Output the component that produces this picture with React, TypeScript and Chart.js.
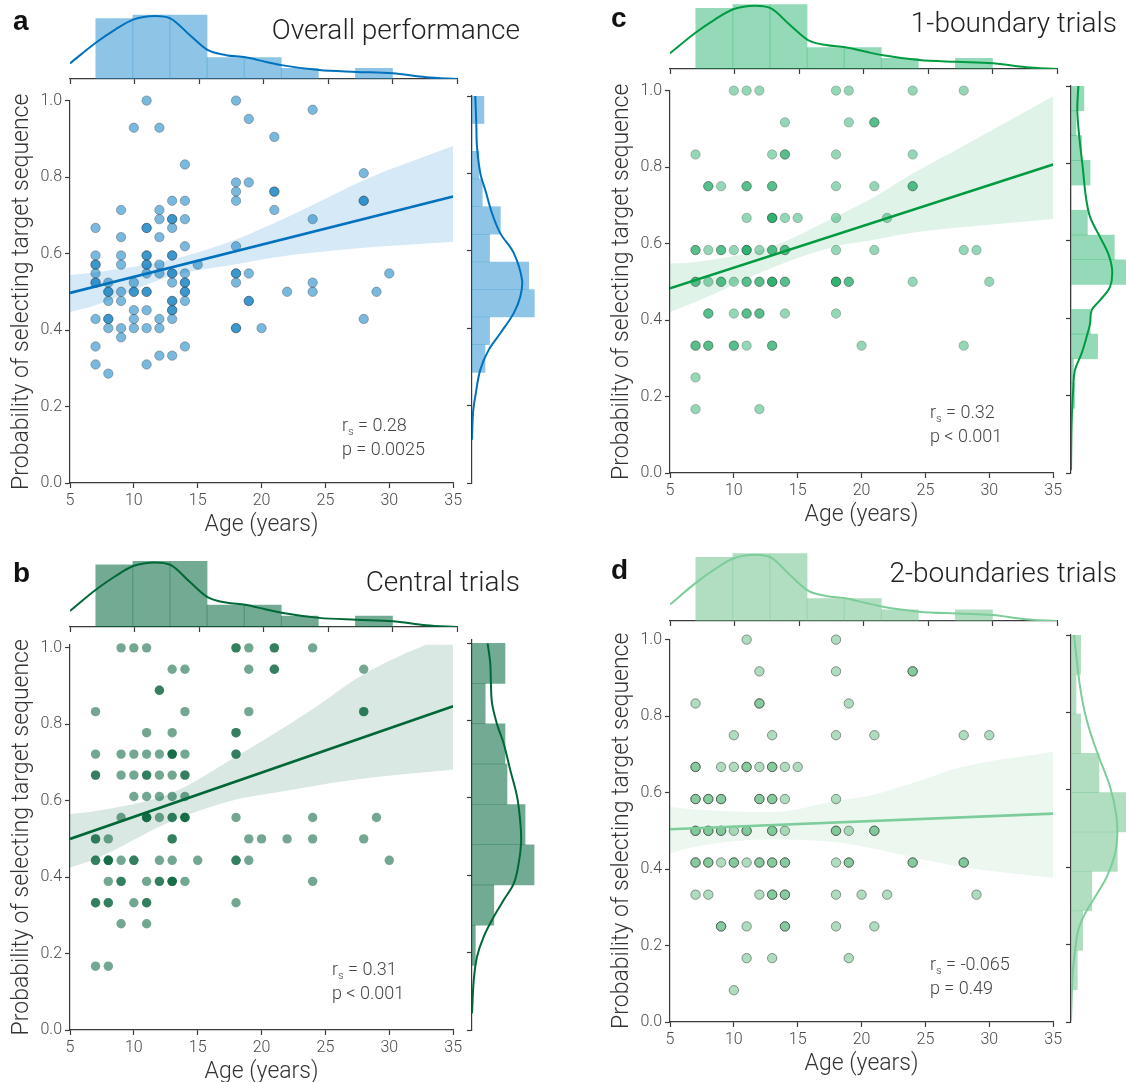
import React, { useEffect, useRef } from "react";
import { Chart, registerables } from "chart.js";
Chart.register(...registerables);

const FONT = "Roboto, 'Liberation Sans', Arial, sans-serif";

// ---------- shared axes ----------
const xTickValues = [5, 10, 15, 20, 25, 30, 35];
const yTickValues = [0, 0.2, 0.4, 0.6, 0.8, 1.0];
const ageGroups = [7, 8, 9, 10, 11, 12, 13, 14, 15, 18, 19, 20, 21, 22, 24, 28, 29, 30];

// ---------- scatter values (one inner list per age group) ----------
const overallScores = [
  [0.667, 0.595, 0.571, 0.571, 0.548, 0.524, 0.524, 0.429, 0.357, 0.31],
  [0.524, 0.5, 0.5, 0.476, 0.429, 0.429, 0.405, 0.286],
  [0.714, 0.643, 0.595, 0.571, 0.5, 0.476, 0.405, 0.381],
  [0.929, 0.524, 0.5, 0.5, 0.452, 0.429, 0.405],
  [1.0, 0.667, 0.667, 0.595, 0.595, 0.571, 0.571, 0.548, 0.5, 0.5, 0.452, 0.405, 0.31],
  [0.929, 0.714, 0.69, 0.643, 0.571, 0.548, 0.429, 0.405, 0.333],
  [0.738, 0.69, 0.69, 0.667, 0.595, 0.595, 0.548, 0.548, 0.524, 0.476, 0.476, 0.452, 0.452, 0.429, 0.333],
  [0.833, 0.738, 0.69, 0.619, 0.548, 0.524, 0.524, 0.5, 0.5, 0.476, 0.357],
  [0.571],
  [1.0, 0.786, 0.762, 0.738, 0.619, 0.548, 0.548, 0.524, 0.405, 0.405],
  [0.952, 0.786, 0.548, 0.476, 0.476],
  [0.405],
  [0.905, 0.762, 0.762, 0.714],
  [0.5],
  [0.976, 0.69, 0.524, 0.5],
  [0.81, 0.738, 0.738, 0.429],
  [0.5],
  [0.548],
];
const centralScores = [
  [0.833, 0.722, 0.667, 0.667, 0.5, 0.5, 0.444, 0.444, 0.333, 0.333, 0.167],
  [0.5, 0.444, 0.444, 0.444, 0.389, 0.333, 0.333, 0.167],
  [1.0, 0.722, 0.667, 0.556, 0.444, 0.389, 0.389, 0.278],
  [1.0, 0.722, 0.667, 0.611, 0.444, 0.444, 0.333],
  [1.0, 0.778, 0.722, 0.667, 0.667, 0.611, 0.556, 0.556, 0.556, 0.389, 0.333, 0.333, 0.278],
  [0.889, 0.889, 0.722, 0.667, 0.611, 0.556, 0.444, 0.389, 0.389],
  [0.944, 0.778, 0.722, 0.722, 0.722, 0.667, 0.611, 0.556, 0.556, 0.5, 0.5, 0.444, 0.389, 0.389, 0.389],
  [0.944, 0.833, 0.722, 0.667, 0.667, 0.611, 0.556, 0.556, 0.556, 0.389],
  [0.444],
  [1.0, 1.0, 0.778, 0.778, 0.722, 0.722, 0.556, 0.444, 0.444, 0.333],
  [1.0, 0.944, 0.833, 0.5, 0.444],
  [0.5],
  [1.0, 1.0, 0.944, 0.944],
  [0.5],
  [1.0, 0.556, 0.5, 0.389],
  [0.944, 0.833, 0.833, 0.5],
  [0.556],
  [0.444],
];
const oneBoundaryScores = [
  [0.833, 0.583, 0.583, 0.5, 0.5, 0.333, 0.333, 0.25, 0.167],
  [0.75, 0.75, 0.583, 0.5, 0.417, 0.417, 0.333, 0.333],
  [0.75, 0.583, 0.583, 0.5, 0.5],
  [1.0, 0.583, 0.5, 0.417, 0.333, 0.333],
  [1.0, 0.75, 0.75, 0.667, 0.583, 0.583, 0.583, 0.5, 0.5, 0.417, 0.417, 0.333],
  [1.0, 0.583, 0.5, 0.5, 0.417, 0.417, 0.167],
  [0.833, 0.75, 0.75, 0.667, 0.667, 0.667, 0.583, 0.583, 0.5, 0.5, 0.5, 0.333, 0.333],
  [0.917, 0.833, 0.833, 0.667, 0.583, 0.583, 0.5, 0.5, 0.417],
  [0.667],
  [1.0, 0.833, 0.75, 0.667, 0.583, 0.5, 0.5, 0.5, 0.417],
  [1.0, 0.917, 0.5, 0.5],
  [0.333],
  [0.917, 0.917, 0.75, 0.583],
  [0.667],
  [1.0, 0.833, 0.75, 0.75, 0.5],
  [1.0, 0.583, 0.333],
  [0.583],
  [0.5],
];
const twoBoundaryScores = [
  [0.833, 0.667, 0.667, 0.583, 0.583, 0.5, 0.5, 0.417, 0.417, 0.333],
  [0.583, 0.583, 0.5, 0.5, 0.417, 0.417, 0.333],
  [0.667, 0.583, 0.583, 0.5, 0.5, 0.417, 0.25, 0.25],
  [0.75, 0.667, 0.5, 0.417, 0.417, 0.083],
  [1.0, 0.667, 0.667, 0.5, 0.5, 0.417, 0.25, 0.167],
  [0.917, 0.833, 0.833, 0.667, 0.583, 0.583, 0.417, 0.417, 0.333],
  [0.75, 0.667, 0.667, 0.583, 0.583, 0.5, 0.5, 0.417, 0.417, 0.333, 0.333, 0.167],
  [0.667, 0.583, 0.5, 0.417, 0.417, 0.333, 0.333, 0.25, 0.25],
  [0.667],
  [1.0, 0.917, 0.75, 0.583, 0.5, 0.5, 0.417, 0.333, 0.25],
  [0.833, 0.5, 0.417, 0.417, 0.167],
  [0.333],
  [0.75, 0.5, 0.5, 0.25],
  [0.333],
  [0.917, 0.917, 0.417, 0.417],
  [0.75, 0.417, 0.417],
  [0.333],
  [0.75],
];

// ---------- regression fits and confidence bands ----------
const fitAges = [5, 35];
const overallFit = [0.497, 0.749];
const centralFit = [0.5, 0.847];
const oneBoundaryFit = [0.483, 0.807];
const twoBoundaryFit = [0.504, 0.545];

const bandAges = [5, 7, 13, 18, 21, 24, 28, 35];
const overallUpper = [0.544, 0.551, 0.585, 0.637, 0.68, 0.727, 0.792, 0.881];
const overallLower = [0.447, 0.465, 0.542, 0.572, 0.59, 0.602, 0.615, 0.63];
const centralUpper = [0.565, 0.573, 0.621, 0.716, 0.776, 0.84, 0.931, 1.04];
const centralLower = [0.425, 0.448, 0.547, 0.603, 0.621, 0.638, 0.658, 0.681];
const oneBoundaryUpper = [0.548, 0.552, 0.593, 0.671, 0.722, 0.783, 0.856, 0.985];
const oneBoundaryLower = [0.421, 0.447, 0.537, 0.593, 0.61, 0.628, 0.643, 0.664];
const twoBoundaryUpper = [0.562, 0.556, 0.549, 0.578, 0.595, 0.625, 0.668, 0.707];
const twoBoundaryLower = [0.441, 0.459, 0.478, 0.47, 0.453, 0.431, 0.405, 0.377];

// ---------- top marginal: age histogram + density (same participants) ----------
const ageBinEdges = [7, 9.875, 12.75, 15.625, 18.5, 21.375, 24.25, 27.125, 30];
const ageBinCounts = [17, 18, 18, 6, 6, 3, 0, 3];
const ageKdeAges = [5, 7, 8.5, 9.9, 11.6, 12.8, 14.3, 15.7, 17.1, 18.6, 20.2, 21.4, 24.3, 27.2, 30, 32.6, 35];
const ageKdeDensity = [4.4, 10.2, 13.9, 16.7, 17.7, 17.0, 12.3, 8.1, 6.7, 6.1, 4.8, 3.9, 2.5, 2.0, 1.6, 0.5, 0];

// ---------- right marginals: probability histograms + densities ----------
const overallBinEdges = [0.286, 0.357, 0.429, 0.5, 0.571, 0.643, 0.714, 0.786, 0.857, 0.929, 1.0];
const overallBinCounts = [2.3, 3.1, 11, 10, 3.1, 5, 1.8, 1.2, 0, 2.1];
const overallKdeProb = [1.0, 0.929, 0.869, 0.8, 0.757, 0.697, 0.645, 0.594, 0.525, 0.482, 0.439, 0.387, 0.344, 0.293, 0.224, 0.181, 0.112];
const overallKdeDensity = [0.58, 0.76, 0.88, 1.47, 2.35, 3.53, 5.0, 7.37, 8.83, 8.53, 7.37, 5.0, 2.95, 1.47, 0.58, 0.18, 0];

const centralBinEdges = [0.167, 0.271, 0.375, 0.479, 0.583, 0.688, 0.792, 0.896, 1.0];
const centralBinCounts = [1.5, 9.9, 28.2, 24.1, 15.9, 15, 6, 15];
const centralKdeProb = [1.0, 0.948, 0.897, 0.845, 0.79, 0.741, 0.672, 0.603, 0.534, 0.483, 0.431, 0.379, 0.336, 0.293, 0.241, 0.19, 0.129, 0.043];
const centralKdeDensity = [7.1, 8.3, 8.6, 9.1, 11.4, 14.4, 17.4, 20.5, 22, 22.3, 21.2, 19, 14.4, 9.9, 5.3, 2.3, 0.8, 0];

const oneBoundaryBinEdges = [0.167, 0.231, 0.295, 0.359, 0.423, 0.487, 0.551, 0.615, 0.679, 0.744, 0.808, 0.872, 0.936, 1.0];
const oneBoundaryBinCounts = [2, 1.3, 14.8, 10.6, 0, 30.4, 24.1, 9.1, 0, 10.6, 5.9, 2.8, 7.2];
const oneBoundaryKdeProb = [1.0, 0.938, 0.869, 0.791, 0.713, 0.662, 0.61, 0.567, 0.524, 0.481, 0.446, 0.421, 0.386, 0.352, 0.309, 0.266, 0.223, 0.136, 0.007];
const oneBoundaryKdeDensity = [4.1, 3.5, 4.6, 6.5, 8.3, 10.6, 16.1, 20.7, 22.9, 21.7, 16.1, 11.5, 10.6, 8.7, 5.9, 2.2, 1.3, 0.4, 0];

const twoBoundaryBinEdges = [0.083, 0.185, 0.287, 0.389, 0.491, 0.593, 0.694, 0.796, 0.898, 1.0];
const twoBoundaryBinCounts = [3.4, 6.3, 11.2, 25, 29.6, 15.1, 5.2, 2.7, 5.2];
const twoBoundaryKdeProb = [1.0, 0.935, 0.866, 0.797, 0.737, 0.677, 0.608, 0.539, 0.487, 0.435, 0.375, 0.323, 0.28, 0.237, 0.185, 0.125, 0.004];
const twoBoundaryKdeDensity = [1.6, 3.1, 4.9, 7.6, 11.2, 15.7, 21.1, 24.3, 25, 23.8, 19.3, 13, 7.6, 3.9, 2.2, 0.9, 0];

// ---------- panel definitions (layout + styling kept separate from data) ----------
type PanelDef = {
  letter: string; title: string; rs: string; p: string;
  scores: number[][]; fit: number[]; upper: number[]; lower: number[];
  binEdges: number[]; binCounts: number[]; kdeProb: number[]; kdeDensity: number[];
  plotL: number; plotT: number; plotB: number; yMax: number; histBase: number;
  topMax: number; rightAxis: number; rightW: number; rightMax: number;
  colors: { line: string; point: string; edge: string; band: string; hist: string };
  letterPos: [number, number]; titleRight: number; titleTop: number; annPos: [number, number];
};

const panels: PanelDef[] = [
  {
    letter: "a", title: "Overall performance", rs: "0.28", p: "p = 0.0025",
    scores: overallScores, fit: overallFit, upper: overallUpper, lower: overallLower,
    binEdges: overallBinEdges, binCounts: overallBinCounts, kdeProb: overallKdeProb, kdeDensity: overallKdeDensity,
    plotL: 70, plotT: 96, plotB: 483, yMax: 1.0, histBase: 79, topMax: 19.4,
    rightAxis: 472, rightW: 68, rightMax: 12.0,
    colors: { line: "rgb(0,114,189)", point: "rgba(0,120,192,0.52)", edge: "rgba(60,60,60,0.45)", band: "rgba(0,120,200,0.16)", hist: "rgba(30,140,205,0.5)" },
    letterPos: [13, 7], titleRight: 520, titleTop: 16, annPos: [342, 414],
  },
  {
    letter: "b", title: "Central trials", rs: "0.31", p: "p < 0.001",
    scores: centralScores, fit: centralFit, upper: centralUpper, lower: centralLower,
    binEdges: centralBinEdges, binCounts: centralBinCounts, kdeProb: centralKdeProb, kdeDensity: centralKdeDensity,
    plotL: 70, plotT: 640, plotB: 1030, yMax: 1.0085, histBase: 627, topMax: 18.9,
    rightAxis: 472, rightW: 68, rightMax: 30.9,
    colors: { line: "rgb(0,104,55)", point: "rgba(0,95,55,0.55)", edge: "rgba(0,0,0,0)", band: "rgba(0,100,60,0.15)", hist: "rgba(0,100,60,0.55)" },
    letterPos: [13, 559], titleRight: 520, titleTop: 568, annPos: [332, 958],
  },
  {
    letter: "c", title: "1-boundary trials", rs: "0.32", p: "p < 0.001",
    scores: oneBoundaryScores, fit: oneBoundaryFit, upper: oneBoundaryUpper, lower: oneBoundaryLower,
    binEdges: oneBoundaryBinEdges, binCounts: oneBoundaryBinCounts, kdeProb: oneBoundaryKdeProb, kdeDensity: oneBoundaryKdeDensity,
    plotL: 670, plotT: 86, plotB: 473, yMax: 1.0, histBase: 69, topMax: 19.3,
    rightAxis: 1071, rightW: 55, rightMax: 30.6,
    colors: { line: "rgb(0,155,65)", point: "rgba(0,160,80,0.42)", edge: "rgba(50,50,50,0.35)", band: "rgba(0,160,70,0.12)", hist: "rgba(0,165,85,0.42)" },
    letterPos: [611, 4], titleRight: 1117, titleTop: 9, annPos: [930, 401],
  },
  {
    letter: "d", title: "2-boundaries trials", rs: "-0.065", p: "p = 0.49",
    scores: twoBoundaryScores, fit: twoBoundaryFit, upper: twoBoundaryUpper, lower: twoBoundaryLower,
    binEdges: twoBoundaryBinEdges, binCounts: twoBoundaryBinCounts, kdeProb: twoBoundaryKdeProb, kdeDensity: twoBoundaryKdeDensity,
    plotL: 670, plotT: 635, plotB: 1022, yMax: 1.0, histBase: 621, topMax: 18.45,
    rightAxis: 1071, rightW: 55, rightMax: 29.7,
    colors: { line: "rgb(125,205,155)", point: "rgba(95,185,125,0.5)", edge: "rgba(30,30,30,0.55)", band: "rgba(110,195,140,0.13)", hist: "rgba(100,190,130,0.5)" },
    letterPos: [611, 556], titleRight: 1117, titleTop: 559, annPos: [930, 953],
  },
];

const PLOT_W = 387;
const AXIS_COLOR = "#3a3a3a";
const TICK_COLOR = "#4a4a4a";

type Box = { left: number; top: number; width: number; height: number };

function ChartCanvas({ box, makeConfig }: { box: Box; makeConfig: () => any }) {
  const ref = useRef<HTMLCanvasElement | null>(null);
  useEffect(() => {
    if (!ref.current) return;
    const chart = new Chart(ref.current, makeConfig());
    return () => chart.destroy();
  }, []);
  return (
    <canvas
      ref={ref}
      width={box.width}
      height={box.height}
      style={{ position: "absolute", left: box.left, top: box.top, width: box.width, height: box.height }}
    />
  );
}

const setTicks = (values: number[]) => (scale: any) => {
  scale.ticks = values.map((v) => ({ value: v }));
};

const centers = (edges: number[]) => edges.slice(0, -1).map((e, i) => (e + edges[i + 1]) / 2);

function scatterConfig(p: PanelDef) {
  const points = ageGroups.flatMap((age, i) => p.scores[i].map((v) => ({ x: age, y: v })));
  return {
    type: "scatter",
    data: {
      datasets: [
        {
          type: "line", showLine: true,
          data: bandAges.map((x, i) => ({ x, y: p.upper[i] })),
          borderWidth: 0, pointRadius: 0, fill: "+1", backgroundColor: p.colors.band,
          cubicInterpolationMode: "monotone", order: 3,
        },
        {
          type: "line", showLine: true,
          data: bandAges.map((x, i) => ({ x, y: p.lower[i] })),
          borderWidth: 0, pointRadius: 0, fill: false,
          cubicInterpolationMode: "monotone", order: 3,
        },
        {
          type: "scatter", data: points, pointRadius: 4.7, pointHoverRadius: 4.7,
          backgroundColor: p.colors.point, borderColor: p.colors.edge, borderWidth: 0.8,
          order: 2, clip: false,
        },
        {
          type: "line", showLine: true,
          data: fitAges.map((x, i) => ({ x, y: p.fit[i] })),
          borderColor: p.colors.line, borderWidth: 2.6, pointRadius: 0, fill: false, order: 1,
        },
      ],
    },
    options: {
      animation: false, responsive: false, events: [],
      layout: { padding: { left: 0, top: 8, right: 8, bottom: 0 } },
      plugins: { legend: { display: false }, tooltip: { enabled: false } },
      scales: {
        x: {
          type: "linear", min: 5, max: 35,
          afterBuildTicks: setTicks(xTickValues),
          afterFit: (s: any) => { s.height = 56; },
          grid: { drawOnChartArea: false, drawTicks: true, tickLength: 5, color: AXIS_COLOR, tickWidth: 1.2 },
          border: { display: true, color: AXIS_COLOR, width: 1.2 },
          ticks: { color: TICK_COLOR, font: { family: FONT, size: 16, weight: "300" }, padding: 3, maxRotation: 0, callback: (v: any) => String(v) },
          title: { display: true, text: "Age (years)", color: "#333", font: { family: FONT, size: 23, weight: "300" }, padding: { top: 0, bottom: 0 } },
        },
        y: {
          type: "linear", min: 0, max: p.yMax,
          afterBuildTicks: setTicks(yTickValues),
          afterFit: (s: any) => { s.width = 70; },
          grid: { drawOnChartArea: false, drawTicks: true, tickLength: 5, color: AXIS_COLOR, tickWidth: 1.2 },
          border: { display: true, color: AXIS_COLOR, width: 1.2 },
          ticks: { color: TICK_COLOR, font: { family: FONT, size: 16, weight: "300" }, padding: 3, callback: (v: any) => Number(v).toFixed(1) },
          title: { display: true, text: "Probability of selecting target sequence", color: "#333", font: { family: FONT, size: 23, weight: "300" }, padding: { top: 8, bottom: 0 } },
        },
      },
    },
  };
}

function topHistConfig(p: PanelDef) {
  const mids = centers(ageBinEdges);
  return {
    type: "bar",
    data: {
      datasets: [
        {
          type: "line", data: ageKdeAges.map((x, i) => ({ x, y: ageKdeDensity[i] })),
          borderColor: p.colors.line, borderWidth: 2, pointRadius: 0, fill: false,
          cubicInterpolationMode: "monotone", order: 1,
        },
        {
          type: "bar", data: mids.map((x, i) => ({ x, y: ageBinCounts[i] })),
          backgroundColor: p.colors.hist, borderWidth: 0, barPercentage: 1, categoryPercentage: 1, order: 2,
        },
      ],
    },
    options: {
      animation: false, responsive: false, events: [],
      layout: { padding: { left: 10, right: 10, top: 0, bottom: 0 } },
      plugins: { legend: { display: false }, tooltip: { enabled: false } },
      scales: {
        x: {
          type: "linear", min: 5, max: 35, offset: false,
          afterBuildTicks: setTicks(xTickValues),
          afterFit: (s: any) => { s.height = 10; },
          grid: { offset: false, drawOnChartArea: false, drawTicks: true, tickLength: 5, color: AXIS_COLOR, tickWidth: 1.2 },
          border: { display: true, color: AXIS_COLOR, width: 1.2 },
          ticks: { display: false },
        },
        y: { type: "linear", min: 0, max: p.topMax, display: false },
      },
    },
  };
}

function rightHistConfig(p: PanelDef) {
  const mids = centers(p.binEdges);
  return {
    type: "bar",
    data: {
      datasets: [
        {
          type: "line", indexAxis: "y", data: p.kdeProb.map((y, i) => ({ x: p.kdeDensity[i], y })),
          borderColor: p.colors.line, borderWidth: 2, pointRadius: 0, fill: false, tension: 0.35, order: 1,
        },
        {
          type: "bar", indexAxis: "y", data: mids.map((y, i) => ({ x: p.binCounts[i], y })),
          backgroundColor: p.colors.hist, borderWidth: 0, barPercentage: 1, categoryPercentage: 1, order: 2,
        },
      ],
    },
    options: {
      indexAxis: "y",
      animation: false, responsive: false, events: [],
      layout: { padding: { left: 0, right: 0, top: 8, bottom: 8 } },
      plugins: { legend: { display: false }, tooltip: { enabled: false } },
      scales: {
        y: {
          type: "linear", min: 0, max: p.yMax, offset: false, position: "left",
          afterBuildTicks: setTicks(yTickValues),
          afterFit: (s: any) => { s.width = 10; },
          grid: { offset: false, drawOnChartArea: false, drawTicks: true, tickLength: 5, color: AXIS_COLOR, tickWidth: 1.2 },
          border: { display: true, color: AXIS_COLOR, width: 1.2 },
          ticks: { display: false },
        },
        x: { type: "linear", min: 0, max: p.rightMax, display: false },
      },
    },
  };
}

function Panel({ p }: { p: PanelDef }) {
  const L = p.plotL, T = p.plotT, B = p.plotB;
  const scatterBox: Box = { left: L - 70, top: T - 8, width: PLOT_W + 78, height: B - T + 64 };
  const topBox: Box = { left: L - 10, top: p.histBase - 69, width: PLOT_W + 20, height: 79 };
  const rightBox: Box = { left: p.rightAxis - 10, top: T - 8, width: 10 + p.rightW, height: B - T + 16 };
  return (
    <>
      <ChartCanvas box={scatterBox} makeConfig={() => scatterConfig(p)} />
      <ChartCanvas box={topBox} makeConfig={() => topHistConfig(p)} />
      <ChartCanvas box={rightBox} makeConfig={() => rightHistConfig(p)} />
      <div style={{ position: "absolute", left: p.letterPos[0], top: p.letterPos[1], fontFamily: "'Liberation Sans', Arial, sans-serif", fontWeight: 700, fontSize: 28, lineHeight: "28px", color: "#111" }}>
        {p.letter}
      </div>
      <div style={{ position: "absolute", right: 1126 - p.titleRight, top: p.titleTop, fontFamily: FONT, fontWeight: 300, fontSize: 28, lineHeight: "28px", color: "#222", whiteSpace: "nowrap" }}>
        {p.title}
      </div>
      <div style={{ position: "absolute", left: p.annPos[0], top: p.annPos[1], fontFamily: FONT, fontWeight: 300, fontSize: 18, lineHeight: "21px", color: "#444", whiteSpace: "nowrap" }}>
        <div>
          r<span style={{ fontSize: 11, position: "relative", top: 4 }}>s</span> = {p.rs}
        </div>
        <div>{p.p}</div>
      </div>
    </>
  );
}

export default function App() {
  return (
    <div style={{ position: "absolute", left: 0, top: 0, width: 1126, height: 1082, background: "#fff", overflow: "hidden" }}>
      {panels.map((p) => (
        <Panel key={p.letter} p={p} />
      ))}
    </div>
  );
}
